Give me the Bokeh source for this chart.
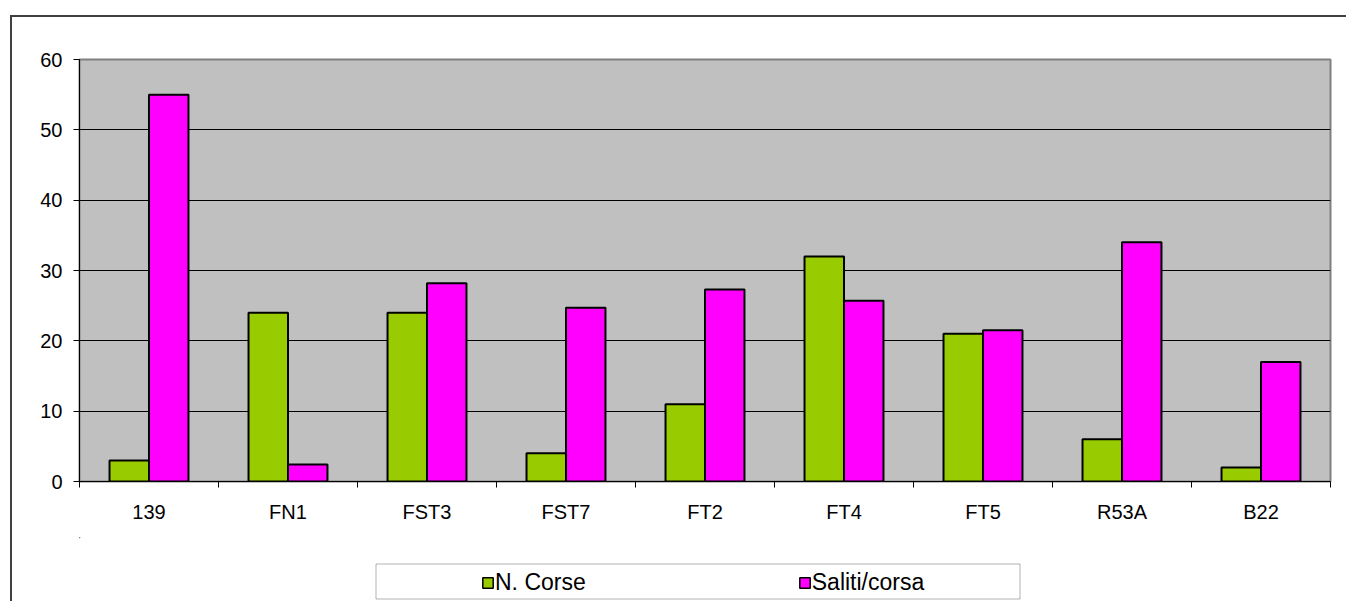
from bokeh.plotting import figure
from bokeh.layouts import column
from bokeh.models import (Range1d, FixedTicker, ColumnDataSource, Legend, LegendItem,
                          BoxAnnotation)
from bokeh.embed import file_html
from bokeh.resources import INLINE

categories = ["139", "FN1", "FST3", "FST7", "FT2", "FT4", "FT5", "R53A", "B22"]
n_corse = [3, 24, 24, 4, 11, 32, 21, 6, 2]
saliti_corsa = [55, 2.4, 28.2, 24.7, 27.3, 25.7, 21.5, 34, 17]
y_ticks = [0, 10, 20, 30, 40, 50, 60]
series_names = ["N. Corse", "Saliti/corsa"]
series_colors = ["#99CC00", "#FF00FF"]

FONT = "Liberation Sans"
W = 1334
H_PLOT, H_LEG = 520, 64
BL, BR = 67, 16           # left / right borders shared by both strips
FW = W - BL - BR          # frame width in px
BAR_W = 0.284

n = len(categories)
centers = [i + 0.5 for i in range(n)]
src = ColumnDataSource(dict(
    x1=[c - BAR_W / 2 for c in centers],
    x2=[c + BAR_W / 2 for c in centers],
    a=n_corse, b=saliti_corsa,
))

# ---------------- main chart ----------------
p = figure(width=W, height=H_PLOT, output_backend="svg", toolbar_location=None,
           x_range=Range1d(0, n), y_range=Range1d(y_ticks[0], y_ticks[-1]),
           min_border_left=BL, min_border_right=BR, min_border_top=42,
           min_border_bottom=56)
p.background_fill_color = "#C0C0C0"
p.border_fill_color = "white"
p.outline_line_color = "#808080"
p.outline_line_width = 2

p.vbar(x="x1", top="a", width=BAR_W, bottom=0, source=src,
       fill_color=series_colors[0], line_color="black", line_width=2)
p.vbar(x="x2", top="b", width=BAR_W, bottom=0, source=src,
       fill_color=series_colors[1], line_color="black", line_width=2)

p.xgrid.visible = False
p.ygrid.ticker = FixedTicker(ticks=y_ticks)
p.ygrid.grid_line_color = "black"
p.ygrid.grid_line_width = 1

ya = p.yaxis[0]
ya.ticker = FixedTicker(ticks=y_ticks)
ya.major_tick_in = 0
ya.major_tick_out = 6
ya.minor_tick_out = 0
ya.axis_line_color = "black"
ya.major_tick_line_color = "black"
ya.major_label_text_font = FONT
ya.major_label_text_font_size = "20px"
ya.major_label_text_color = "black"
ya.major_label_standoff = 11

xa = p.xaxis[0]
xa.ticker = FixedTicker(ticks=centers, minor_ticks=list(range(n + 1)))
xa.major_label_overrides = {c: lab for c, lab in zip(centers, categories)}
xa.major_tick_in = 0
xa.major_tick_out = 0
xa.minor_tick_in = 0
xa.minor_tick_out = 6
xa.minor_tick_line_color = "black"
xa.axis_line_color = "black"
xa.major_label_text_font = FONT
xa.major_label_text_font_size = "20px"
xa.major_label_text_color = "black"
xa.major_label_standoff = 13

# ---------------- legend strip (pixel-scaled frame) ----------------
q = figure(width=W, height=H_LEG, output_backend="svg", toolbar_location=None,
           x_range=Range1d(0, FW), y_range=Range1d(0, H_LEG),
           x_axis_type=None, y_axis_type=None,
           min_border_left=BL, min_border_right=BR, min_border_top=0,
           min_border_bottom=0)
q.background_fill_color = "white"
q.border_fill_color = "white"
q.outline_line_color = None
q.xgrid.visible = False
q.ygrid.visible = False

# legend box
q.add_layout(BoxAnnotation(left=296.5, right=940.5, bottom=2.5, top=37.5,
                           fill_alpha=0, line_color="black", line_width=1))

# legend proxies (far outside the visible ranges; used only for the swatches)
lr = [q.vbar(x=[-1000], top=[1001], bottom=[1000], width=1, fill_color=c,
             line_color="black", line_width=1.5) for c in series_colors]
legend = Legend(items=[LegendItem(label=nm, renderers=[r])
                       for nm, r in zip(series_names, lr)],
                orientation="horizontal", location=(402, 5),
                glyph_width=13, glyph_height=13, label_width=20,
                label_height=13, label_standoff=1, spacing=212, padding=0,
                margin=0, border_line_alpha=0, background_fill_alpha=0,
                label_text_font=FONT, label_text_font_size="23px",
                label_text_color="black")
q.add_layout(legend, "center")

root = column(p, q, spacing=0,
              styles={"margin-left": "10px", "margin-top": "15px",
                      "border-top": "2px solid #404040",
                      "border-left": "2px solid #404040"})

open("out.html", "w").write(file_html(root, INLINE))
